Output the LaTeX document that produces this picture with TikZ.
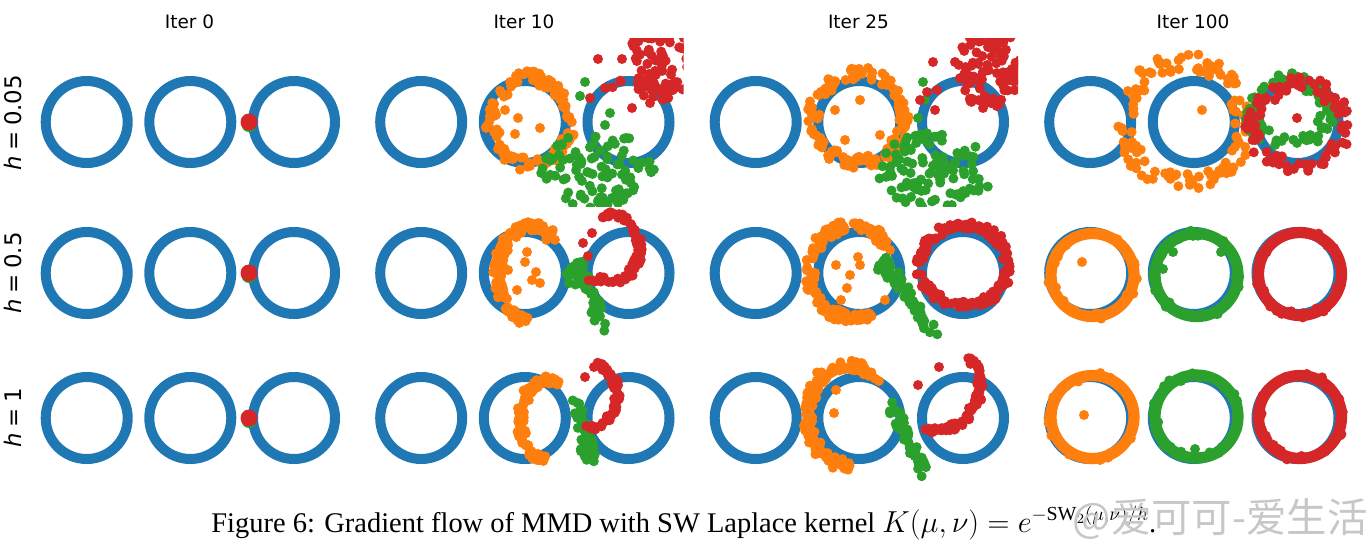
\documentclass[tikz,border=0pt]{standalone}
\usepackage{amsmath}
\usepackage{fontspec}
\setmainfont{Liberation Serif}
\newfontfamily\plotfont{DejaVu Sans}
\newfontfamily\cjkfont{Noto Sans CJK SC}

\definecolor{tabBlue}{HTML}{1F77B4}
\definecolor{tabOrange}{HTML}{FF7F0E}
\definecolor{tabGreen}{HTML}{2CA02C}
\definecolor{tabRed}{HTML}{D62728}

% noisy points along an elliptic arc: style, n, cx, cy, rx, ry, t1, t2, noise
\newcommand{\ptArc}[9]{%
	\foreach \k in {1,...,#2}{%
		\pgfmathsetmacro{\myT}{#7+(#8-#7)*rnd}%
		\fill[#1] ({#3+#5*cos(\myT)+#9*rand},{#4+#6*sin(\myT)+#9*rand}) circle[radius=5];
	}}
% points spread over an ellipse: style, n, cx, cy, rx, ry
\newcommand{\ptBlob}[6]{%
	\foreach \k in {1,...,#2}{%
		\pgfmathsetmacro{\myA}{360*rnd}%
		\pgfmathsetmacro{\myR}{sqrt(rnd)}%
		\fill[#1] ({#3+#5*\myR*cos(\myA)},{#4+#6*\myR*sin(\myA)}) circle[radius=5];
	}}
% noisy points along a segment: style, n, x1, y1, x2, y2, noise
\newcommand{\ptLine}[7]{%
	\foreach \k in {1,...,#2}{%
		\pgfmathsetmacro{\myS}{rnd}%
		\fill[#1] ({#3+(#5-#3)*\myS+#7*rand},{#4+(#6-#4)*\myS+#7*rand}) circle[radius=5];
	}}
% single points
\newcommand{\pts}[2]{\foreach \a/\b in {#2} \fill[#1] (\a,\b) circle[radius=5];}

\begin{document}
\begin{tikzpicture}[x=0.02cm, y=-0.02cm]
	\tikzstyle{ringStyle}=[draw=tabBlue, line width=5.7pt]
	\tikzstyle{orangeDot}=[fill=tabOrange]
	\tikzstyle{greenDot}=[fill=tabGreen]
	\tikzstyle{redDot}=[fill=tabRed]
	\tikzstyle{orangeRing}=[draw=tabOrange, line width=6.4pt]
	\tikzstyle{greenRing}=[draw=tabGreen, line width=6.4pt]
	\tikzstyle{redRing}=[draw=tabRed, line width=6.4pt]
	\tikzstyle{titleStyle}=[inner sep=0pt, font=\plotfont\fontsize{10.5}{12}\selectfont]
	\tikzstyle{rowStyle}=[inner sep=0pt, rotate=90, font=\plotfont\fontsize{13}{15}\selectfont]
	\tikzstyle{captionStyle}=[inner sep=0pt, font=\fontsize{16.2}{19}\selectfont]
	\tikzstyle{markStyle}=[inner sep=0pt, text=black!22, font=\cjkfont\fontsize{23}{26}\selectfont]
	\useasboundingbox (0,0) rectangle (1370,549);
	\pgfmathsetseed{7}

	% titles and row labels
	\node[titleStyle] (iterA) at (189.5,22) {Iter 0};
	\node[titleStyle] (iterB) at (524,22) {Iter 10};
	\node[titleStyle] (iterC) at (858.5,22) {Iter 25};
	\node[titleStyle] (iterD) at (1193,22) {Iter 100};
	\node[rowStyle] (rowA) at (13,123) {\textit{h}\hspace{0.25em}=\hspace{0.25em}0.05};
	\node[rowStyle] (rowB) at (13,273) {\textit{h}\hspace{0.25em}=\hspace{0.25em}0.5};
	\node[rowStyle] (rowC) at (13,418) {\textit{h}\hspace{0.25em}=\hspace{0.25em}1};

	% target rings
	\foreach \c in {0,1,2,3}
		\foreach \yy in {122,273,418}
			\foreach \xx in {86.7,190.3,294}
				\draw[ringStyle] ({\xx+334.5*\c},\yy) circle[radius=41];

	% Iter 0
	\foreach \yy in {122,273,418}{
		\fill[tabGreen] (249,\yy+2.5) circle[radius=7.5];
		\fill[tabRed] (249,\yy) circle[radius=8.5];
	}

	% Iter 10, h = 0.05
	\begin{scope}
		\clip (366.2,38) rectangle (683.5,206);
		\ptArc{orangeDot}{110}{530}{121}{39}{44}{0}{360}{6}
		\pts{orangeDot}{518/118, 515/134, 505/110, 540/128}
		\ptBlob{greenDot}{100}{598}{170}{57}{38}
		\pts{greenDot}{585/82, 580/96, 610/113, 605/125}
		\ptBlob{redDot}{95}{663}{62}{36}{42}
		\ptLine{redDot}{15}{615}{84}{680}{84}{5}
		\pts{redDot}{598/59, 622/59, 590/98, 605/88, 632/108, 650/103, 653/97}
	\end{scope}
	% Iter 10, h = 0.5
	\begin{scope}
		\clip (366.2,189) rectangle (683.5,357);
		\ptArc{orangeDot}{120}{530}{273}{32}{47}{100}{310}{5}
		\pts{orangeDot}{527/252, 508/270, 536/272, 517/290, 525/262, 532/280, 540/283}
		\ptLine{greenDot}{45}{578}{262}{603}{328}{5}
		\ptBlob{greenDot}{12}{574}{276}{8}{10}
		\ptArc{redDot}{75}{612}{248}{27}{33}{-110}{115}{3}
		\ptLine{redDot}{8}{585}{282}{605}{279}{2}
		\pts{redDot}{583/243, 592/233, 588/256}
	\end{scope}
	% Iter 10, h = 1
	\begin{scope}
		\clip (366.2,334) rectangle (683.5,502);
		\ptArc{orangeDot}{90}{548}{420}{28}{40}{95}{290}{4}
		\ptLine{greenDot}{45}{577}{405}{592}{460}{5}
		\ptBlob{greenDot}{12}{588}{452}{8}{8}
		\ptArc{redDot}{65}{590}{395}{27}{32}{-75}{95}{3}
		\pts{redDot}{585/377, 594/367}
	\end{scope}

	% Iter 25, h = 0.05
	\begin{scope}
		\clip (700.7,38) rectangle (1018,206);
		\ptArc{orangeDot}{125}{858}{118}{45}{45}{0}{360}{6}
		\pts{orangeDot}{845/140, 860/100, 880/135, 835/110}
		\ptBlob{greenDot}{105}{936}{170}{58}{38}
		\pts{greenDot}{923/82, 918/118, 925/100}
		\ptBlob{redDot}{95}{990}{68}{32}{42}
		\pts{redDot}{933/62, 955/62, 920/100, 927/92, 937/90, 935/110, 983/108, 985/100}
	\end{scope}
	% Iter 25, h = 0.5
	\begin{scope}
		\clip (700.7,189) rectangle (1018,357);
		\ptArc{orangeDot}{135}{852}{272}{42}{46}{60}{330}{5}
		\pts{orangeDot}{836/265, 847/288, 860/265, 841/300, 858/257, 850/275, 890/250, 885/300}
		\ptLine{greenDot}{50}{885}{262}{935}{338}{5}
		\ptBlob{greenDot}{12}{885}{268}{8}{8}
		\ptArc{redDot}{160}{964}{265}{44}{40}{0}{360}{4}
	\end{scope}
	% Iter 25, h = 1
	\begin{scope}
		\clip (700.7,334) rectangle (1018,502);
		\ptArc{orangeDot}{125}{848}{415}{40}{50}{80}{315}{5}
		\pts{orangeDot}{836/390, 834/413}
		\ptLine{greenDot}{50}{890}{405}{926}{473}{5}
		\ptArc{redDot}{75}{935}{385}{45}{45}{-40}{100}{3}
		\pts{redDot}{939/367, 918/385}
	\end{scope}

	% Iter 100, h = 0.05
	\begin{scope}
		\clip (1035.2,38) rectangle (1352.5,206);
		\ptArc{orangeDot}{125}{1185}{123}{58}{60}{0}{360}{9}
		\pts{orangeDot}{1202/110}
		\ptArc{greenDot}{75}{1290}{112}{38}{32}{0}{360}{7}
		\ptArc{redDot}{95}{1298}{125}{46}{42}{0}{360}{7}
		\pts{redDot}{1297/118, 1275/100}
	\end{scope}
	% Iter 100, h = 0.5
	\begin{scope}
		\clip (1035.2,189) rectangle (1352.5,357);
		\draw[orangeRing] (1092.5,275) circle[radius=41.5];
		\ptArc{orangeDot}{40}{1092.5}{275}{41.5}{41.5}{0}{360}{3}
		\pts{orangeDot}{1082/262}
		\draw[greenRing] (1196.5,275) circle[radius=41.5];
		\ptArc{greenDot}{40}{1196.5}{275}{41.5}{41.5}{0}{360}{3}
		\pts{greenDot}{1173/252, 1221/252, 1163/269}
		\draw[redRing] (1300,274) circle[radius=41.5];
		\ptArc{redDot}{40}{1300}{274}{41.5}{41.5}{0}{360}{3}
	\end{scope}
	% Iter 100, h = 1
	\begin{scope}
		\clip (1035.2,334) rectangle (1352.5,502);
		\draw[orangeRing] (1092.5,417) circle[radius=41.5];
		\ptArc{orangeDot}{40}{1092.5}{417}{41.5}{41.5}{0}{360}{3}
		\pts{orangeDot}{1084/415}
		\draw[greenRing] (1196.5,416.5) circle[radius=41.5];
		\ptArc{greenDot}{40}{1196.5}{416.5}{41.5}{41.5}{0}{360}{3}
		\pts{greenDot}{1195/449, 1181/381}
		\draw[redRing] (1300,417) circle[radius=41.5];
		\ptArc{redDot}{40}{1300}{417}{41.5}{41.5}{0}{360}{3}
	\end{scope}

	% caption and overlay mark
	\node[captionStyle, anchor=base west] (caption) at (211,532) {Figure 6: Gradient flow of MMD with SW Laplace kernel $K(\mu,\nu)=e^{-\mathrm{SW}_2(\mu,\nu)/h}$.};
	\node[markStyle, anchor=east] (mark) at (1368,519) {@爱可可-爱生活};
\end{tikzpicture}
\end{document}
